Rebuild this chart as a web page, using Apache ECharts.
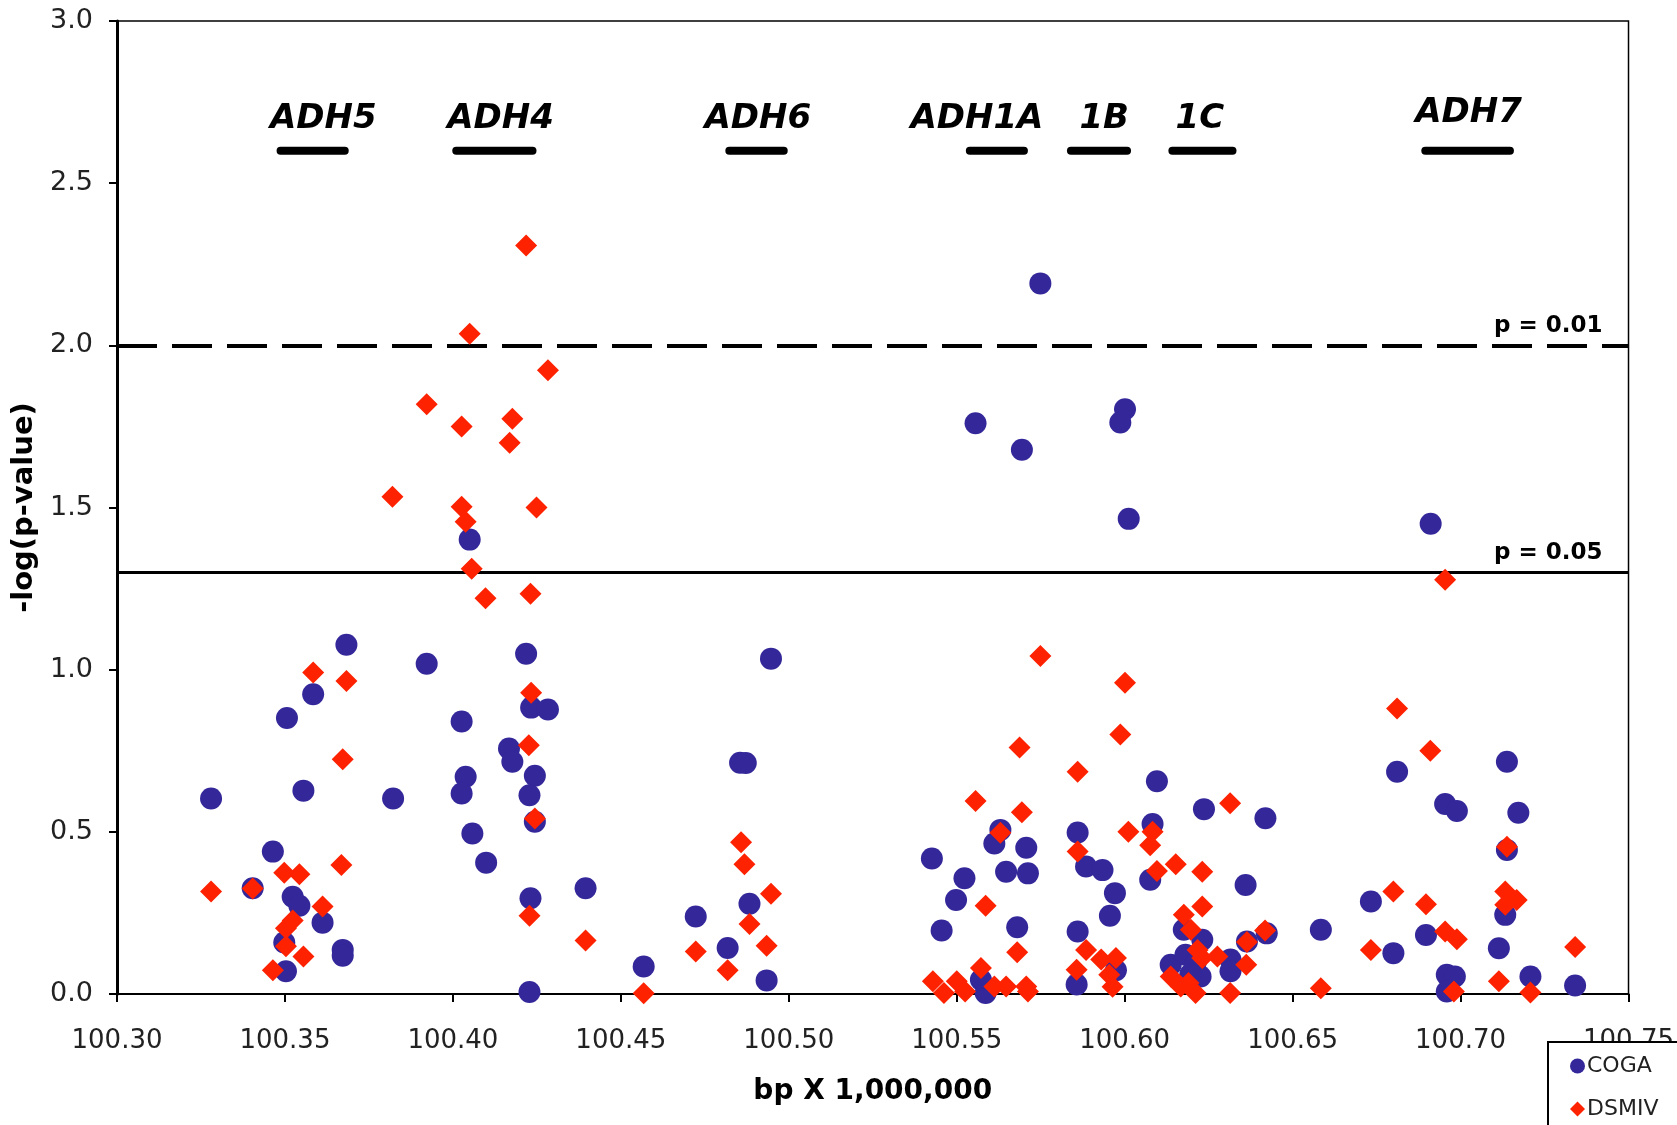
<!DOCTYPE html>
<html>
<head>
<meta charset="utf-8">
<script src="https://cdn.jsdelivr.net/npm/echarts@6/dist/echarts.min.js"></script>
<style>
  html, body { margin: 0; padding: 0; background: #fff; }
  #chart { width: 1677px; height: 1125px; }
</style>
</head>
<body>
<div id="chart"></div>
<script>
// ---- Data (bp position in millions, -log10 p-value) ----
const cogaPoints = [
  [100.3280, 0.603], [100.3404, 0.326], [100.3464, 0.439], [100.3506, 0.851],
  [100.3523, 0.300], [100.3543, 0.272], [100.3555, 0.627], [100.3584, 0.924],
  [100.3612, 0.220], [100.3683, 1.077], [100.3498, 0.159], [100.3503, 0.070],
  [100.3672, 0.136], [100.3672, 0.118], [100.3822, 0.603], [100.3922, 1.018],
  [100.4026, 0.840], [100.4038, 0.670], [100.4026, 0.618], [100.4058, 0.495],
  [100.4099, 0.405], [100.4050, 1.401], [100.4218, 1.049], [100.4167, 0.757],
  [100.4177, 0.716], [100.4233, 0.883], [100.4283, 0.877], [100.4244, 0.673],
  [100.4228, 0.613], [100.4244, 0.531], [100.4231, 0.295], [100.4228, 0.006],
  [100.4395, 0.326], [100.4568, 0.085], [100.4723, 0.239], [100.4818, 0.142],
  [100.4855, 0.713], [100.4872, 0.712], [100.4883, 0.278], [100.4934, 0.042],
  [100.4947, 1.034],
  [100.5426, 0.418], [100.5455, 0.196], [100.5498, 0.290], [100.5523, 0.357],
  [100.5556, 1.760], [100.5572, 0.044], [100.5586, 0.003], [100.5612, 0.464],
  [100.5630, 0.506], [100.5647, 0.377], [100.5712, 0.372], [100.5707, 0.451],
  [100.5680, 0.206], [100.5694, 1.678], [100.5749, 2.191],
  [100.5860, 0.498], [100.5860, 0.193], [100.5857, 0.029], [100.5885, 0.393],
  [100.5934, 0.382], [100.5971, 0.311], [100.5956, 0.241], [100.5974, 0.073],
  [100.6001, 1.803], [100.5987, 1.762], [100.6012, 1.465], [100.6096, 0.656],
  [100.6083, 0.524], [100.6076, 0.352],
  [100.6236, 0.570], [100.6419, 0.542], [100.6360, 0.336], [100.6364, 0.162],
  [100.6423, 0.187], [100.6176, 0.198], [100.6231, 0.167], [100.6137, 0.090],
  [100.6181, 0.121], [100.6211, 0.095], [100.6226, 0.054], [100.6315, 0.106],
  [100.6315, 0.070], [100.6195, 0.060], [100.6584, 0.198], [100.6733, 0.285],
  [100.6800, 0.126], [100.6811, 0.685], [100.6897, 0.182], [100.6911, 1.450],
  [100.6954, 0.586], [100.6989, 0.564], [100.6959, 0.059], [100.6983, 0.054],
  [100.6959, 0.008], [100.7114, 0.141], [100.7133, 0.244], [100.7138, 0.444],
  [100.7138, 0.716], [100.7172, 0.559], [100.7208, 0.054], [100.7341, 0.026]
];

const dsmivPoints = [
  [100.3280, 0.316], [100.3404, 0.325], [100.3464, 0.073], [100.3498, 0.374],
  [100.3503, 0.203], [100.3503, 0.147], [100.3523, 0.227], [100.3543, 0.369],
  [100.3555, 0.116], [100.3584, 0.991], [100.3612, 0.270], [100.3668, 0.398],
  [100.3672, 0.724], [100.3683, 0.965], [100.3820, 1.533], [100.3922, 1.818],
  [100.4026, 1.750], [100.4026, 1.502], [100.4038, 1.456], [100.4050, 2.036],
  [100.4056, 1.311], [100.4097, 1.220], [100.4169, 1.700], [100.4177, 1.774],
  [100.4218, 2.308], [100.4231, 1.234], [100.4233, 0.929], [100.4226, 0.767],
  [100.4244, 0.541], [100.4228, 0.241], [100.4249, 1.500], [100.4283, 1.923],
  [100.4395, 0.165], [100.4568, 0.002], [100.4723, 0.131], [100.4818, 0.073],
  [100.4858, 0.468], [100.4868, 0.400], [100.4883, 0.216], [100.4934, 0.149],
  [100.4947, 0.309],
  [100.5429, 0.039], [100.5462, 0.003], [100.5500, 0.039], [100.5525, 0.008],
  [100.5556, 0.595], [100.5572, 0.080], [100.5586, 0.272], [100.5612, 0.023],
  [100.5630, 0.497], [100.5647, 0.023], [100.5680, 0.129], [100.5687, 0.760],
  [100.5694, 0.560], [100.5707, 0.023], [100.5712, 0.008], [100.5749, 1.042],
  [100.5857, 0.075], [100.5860, 0.685], [100.5860, 0.439], [100.5885, 0.136],
  [100.5930, 0.106], [100.5974, 0.111], [100.5954, 0.059], [100.5964, 0.022],
  [100.5987, 0.800], [100.6001, 0.960], [100.6011, 0.500], [100.6083, 0.500],
  [100.6076, 0.459], [100.6096, 0.379], [100.6152, 0.400],
  [100.6231, 0.377], [100.6314, 0.588], [100.6231, 0.270], [100.6176, 0.244],
  [100.6197, 0.198], [100.6217, 0.136], [100.6231, 0.111], [100.6276, 0.116],
  [100.6137, 0.054], [100.6167, 0.023], [100.6190, 0.034], [100.6211, 0.003],
  [100.6314, 0.003], [100.6362, 0.090], [100.6364, 0.160], [100.6418, 0.196],
  [100.6584, 0.018], [100.6733, 0.136],
  [100.6800, 0.316], [100.6811, 0.880], [100.6897, 0.277], [100.6910, 0.750],
  [100.6954, 1.277], [100.6954, 0.193], [100.6989, 0.169], [100.6980, 0.008],
  [100.7114, 0.039], [100.7133, 0.316], [100.7167, 0.290], [100.7133, 0.275],
  [100.7138, 0.454], [100.7208, 0.005], [100.7341, 0.145]
];

// gene annotation (positions in bp x 1,000,000)
const geneNames  = ['ADH5', 'ADH4', 'ADH6', 'ADH1A', '1B', '1C', 'ADH7'];
const geneStart  = [100.3487, 100.4010, 100.4823, 100.5539, 100.5840, 100.6142, 100.6895];
const geneEnd    = [100.3678, 100.4237, 100.4985, 100.5700, 100.6007, 100.6321, 100.7147];
const geneLabelX = [100.3614, 100.4142, 100.4908, 100.5560, 100.5939, 100.6224, 100.7024];
const geneLabelY = [2.696, 2.696, 2.696, 2.696, 2.696, 2.696, 2.715];
const geneBarY = 2.6;

// significance thresholds
const thresholds = [0.01, 0.05];
const thresholdLabels = ['p = 0.01', 'p = 0.05'];

// axis ticks
const xMin = 100.30, xMax = 100.75, xStep = 0.05;
const yMin = 0, yMax = 3, yStep = 0.5;

const FONT = 'DejaVu Sans';
const BLUE = '#33279a';
const RED = '#ff2200';

const chart = echarts.init(document.getElementById('chart'), null, { renderer: 'canvas' });

const geneData = geneNames.map((n, i) => [geneStart[i], geneEnd[i], geneLabelX[i], geneLabelY[i]]);

const option = {
  animation: false,
  backgroundColor: '#fff',
  grid: {
    left: 117, right: 45, top: 21, bottom: 131,
    show: true, borderColor: '#000', borderWidth: 1.5, backgroundColor: 'transparent'
  },
  graphic: [
    {
      type: 'rect', z: 3, silent: true,
      shape: { x: 1548, y: 1042, width: 200, height: 120 },
      style: { fill: '#fff', stroke: '#000', lineWidth: 2 }
    }
  ],
  legend: {
    left: 1570, top: 1054,
    orient: 'vertical',
    padding: 0,
    itemGap: 19,
    itemWidth: 15, itemHeight: 15,
    selectedMode: false,
    z: 6,
    textStyle: { fontFamily: FONT, fontSize: 22, lineHeight: 24, color: '#222', padding: [0, 0, 0, -3] },
    data: [
      { name: 'COGA', icon: 'circle' },
      { name: 'DSMIV', icon: 'diamond' }
    ]
  },
  xAxis: {
    type: 'value', min: xMin, max: xMax, interval: xStep,
    name: 'bp X 1,000,000', nameLocation: 'middle', nameGap: 84,
    nameTextStyle: { fontFamily: FONT, fontWeight: 'bold', fontSize: 28, color: '#000' },
    axisLine: { show: true, onZero: false, lineStyle: { color: '#000', width: 2 } },
    axisTick: { show: true, inside: false, length: 8, lineStyle: { color: '#000', width: 2 } },
    axisLabel: { margin: 34, fontFamily: FONT, fontSize: 26, color: '#222',
      formatter: v => v.toFixed(2) },
    splitLine: { show: false }
  },
  yAxis: {
    type: 'value', min: yMin, max: yMax, interval: yStep,
    name: '-log(p-value)', nameLocation: 'middle', nameGap: 72, nameRotate: 90,
    nameTextStyle: { fontFamily: FONT, fontWeight: 'bold', fontSize: 29, color: '#000' },
    axisLine: { show: true, onZero: false, lineStyle: { color: '#000', width: 3 } },
    axisTick: { show: true, inside: false, length: 8, lineStyle: { color: '#000', width: 2 } },
    axisLabel: { margin: 24, fontFamily: FONT, fontSize: 27, color: '#222',
      formatter: v => v.toFixed(1) },
    splitLine: { show: false }
  },
  series: [
    {
      name: 'refLines', type: 'scatter', data: [], z: 1, silent: true,
      markLine: {
        silent: true, symbol: 'none', animation: false,
        data: thresholds.map((p, i) => ({
          yAxis: -Math.log10(p),
          lineStyle: i === 0
            ? { color: '#000', width: 4, type: [40, 15] }
            : { color: '#000', width: 3, type: 'solid' },
          label: {
            show: true, position: 'insideEndTop', formatter: thresholdLabels[i],
            fontFamily: FONT, fontWeight: 'bold', fontSize: 23, color: '#000',
            distance: [26, 8]
          }
        }))
      }
    },
    {
      name: 'genes', type: 'custom', z: 3, silent: true,
      data: geneData,
      encode: { x: [0, 1, 2], y: 3 },
      renderItem: function (params, api) {
        const i = params.dataIndex;
        const a = api.coord([api.value(0), geneBarY]);
        const b = api.coord([api.value(1), geneBarY]);
        const t = api.coord([api.value(2), api.value(3)]);
        return {
          type: 'group',
          children: [
            { type: 'line', shape: { x1: a[0], y1: a[1], x2: b[0], y2: b[1] },
              style: { stroke: '#000', lineWidth: 8, lineCap: 'round' } },
            { type: 'text', x: t[0], y: t[1],
              style: { text: geneNames[i], fontFamily: FONT, fontSize: 34,
                fontWeight: 'bold', fontStyle: 'italic', fill: '#000',
                align: 'center', verticalAlign: 'middle' } }
          ]
        };
      }
    },
    {
      name: 'COGA', type: 'scatter', symbol: 'circle', symbolSize: 22, z: 4,
      itemStyle: { color: BLUE, opacity: 1 },
      data: cogaPoints
    },
    {
      name: 'DSMIV', type: 'scatter', symbol: 'diamond', symbolSize: 22, z: 5,
      itemStyle: { color: RED, opacity: 1 },
      data: dsmivPoints
    }
  ]
};

chart.setOption(option);
</script>
</body>
</html>
